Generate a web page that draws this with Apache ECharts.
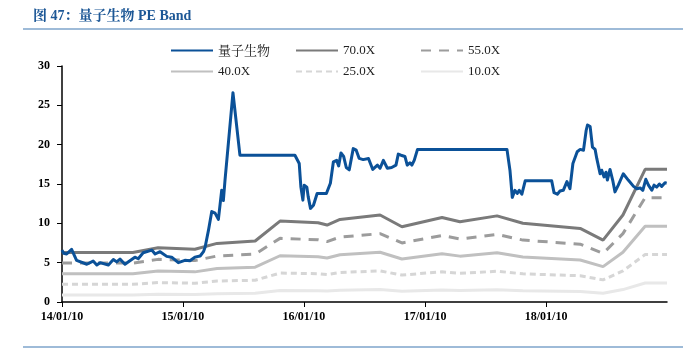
<!DOCTYPE html>
<html>
<head>
<meta charset="utf-8">
<script src="https://cdn.jsdelivr.net/npm/echarts@6/dist/echarts.min.js"></script>
<style>
html,body{margin:0;padding:0;background:#fff;}
#chart{width:683px;height:356px;}
</style>
</head>
<body>
<div id="chart"></div>
<script>
// ---- Data ----
const titleText = '图 47：量子生物 PE Band';
const seriesNames = ['量子生物', '70.0X', '55.0X', '40.0X', '25.0X', '10.0X'];
const xTickDates = ['2014-01-10', '2015-01-10', '2016-01-10', '2017-01-10', '2018-01-10'];
const xMin = '2014-01-10';
const xMax = '2019-01-10';

const peDates = [
  '2014-01-10','2014-01-15','2014-01-24','2014-02-08','2014-02-23','2014-03-26','2014-04-14','2014-04-25','2014-05-05','2014-05-30',
  '2014-06-14','2014-06-24','2014-07-04','2014-07-19','2014-08-18','2014-08-28','2014-09-12','2014-10-08','2014-10-18','2014-11-02',
  '2014-11-22','2014-12-07','2014-12-27','2015-01-16','2015-01-31','2015-02-15','2015-03-03','2015-03-13','2015-03-18','2015-03-28',
  '2015-04-07','2015-04-17','2015-04-27','2015-05-07','2015-05-12','2015-05-17','2015-06-10','2015-07-01','2015-12-14','2015-12-27',
  '2016-01-01','2016-01-07','2016-01-11','2016-01-19','2016-01-23','2016-01-30','2016-02-08','2016-02-19','2016-03-18','2016-03-30',
  '2016-04-08','2016-04-18','2016-04-24','2016-05-01','2016-05-09','2016-05-17','2016-05-26','2016-06-07','2016-06-16','2016-06-25',
  '2016-07-07','2016-07-23','2016-08-05','2016-08-19','2016-08-27','2016-09-06','2016-09-18','2016-10-01','2016-10-14','2016-10-21',
  '2016-10-29','2016-11-10','2016-11-17','2016-11-25','2016-12-01','2016-12-08','2016-12-18','2017-09-14','2017-09-23','2017-09-30',
  '2017-10-08','2017-10-15','2017-10-21','2017-10-29','2017-11-08','2018-01-27','2018-02-03','2018-02-13','2018-02-21','2018-03-03',
  '2018-03-14','2018-03-18','2018-03-23','2018-04-01','2018-04-14','2018-04-23','2018-05-03','2018-05-11','2018-05-15','2018-05-23',
  '2018-05-30','2018-06-07','2018-06-12','2018-06-22','2018-06-27','2018-07-04','2018-07-10','2018-07-14','2018-07-22','2018-07-30',
  '2018-08-06','2018-08-16','2018-08-31','2018-09-15','2018-10-01','2018-10-11','2018-10-21','2018-10-29','2018-11-07','2018-11-15',
  '2018-11-25','2018-12-02','2018-12-10','2018-12-18','2018-12-25','2019-01-04','2019-01-09'
];
const peValues = [
  6.6,6.2,6.1,6.7,5.3,4.8,5.2,4.7,5.0,4.7,
  5.4,5.1,5.45,4.8,5.7,5.5,6.26,6.6,6.1,6.4,
  5.8,5.7,5.0,5.3,5.25,5.7,5.85,6.4,7.0,9.1,
  11.5,11.3,10.5,14.2,12.9,15.5,26.6,18.66,18.66,17.6,
  14.6,12.95,14.85,14.6,13.4,11.9,12.3,13.8,13.8,15.1,
  17.8,18.0,17.3,18.95,18.5,17.1,16.8,19.5,19.3,18.25,
  18.1,18.25,16.85,17.4,17.0,18.0,17.0,17.1,17.4,18.8,
  18.66,18.5,17.4,17.7,17.4,18.0,19.4,19.4,16.75,13.3,
  14.2,13.8,14.2,13.7,15.4,15.4,13.9,13.7,14.1,14.2,
  15.3,15.5,14.4,17.6,19.1,19.4,19.3,21.8,22.5,22.3,
  19.7,19.4,18.25,16.3,16.75,15.9,16.5,15.5,16.85,15.5,
  14.0,14.85,16.3,15.5,14.7,14.4,14.5,14.2,15.6,14.85,
  14.2,14.85,14.6,15.0,14.7,15.15,15.1
];

const bandDates = [
  '2014-01-10','2014-08-12','2014-10-27','2015-02-15','2015-04-23','2015-08-16','2015-10-30',
  '2016-02-22','2016-03-20','2016-04-28','2016-08-27','2016-11-01','2017-03-02','2017-04-25',
  '2017-08-15','2017-11-01','2018-04-23','2018-07-01','2018-08-30','2018-11-05','2019-01-10'
];
const band70 = [6.30,6.30,6.90,6.70,7.45,7.75,10.29,10.07,9.78,10.50,11.06,9.56,10.75,10.20,10.95,10.01,9.35,7.87,11.06,16.87,16.87];
const band55 = [4.95,4.95,5.42,5.26,5.85,6.09,8.09,7.91,7.68,8.25,8.69,7.51,8.45,8.01,8.60,7.87,7.35,6.18,8.69,13.26,13.26];
const band40 = [3.60,3.60,3.94,3.83,4.26,4.43,5.88,5.76,5.59,6.00,6.32,5.46,6.14,5.83,6.26,5.72,5.34,4.50,6.32,9.64,9.64];
const band25 = [2.25,2.25,2.47,2.39,2.66,2.77,3.68,3.60,3.49,3.75,3.95,3.42,3.84,3.64,3.91,3.58,3.34,2.81,3.95,6.03,6.03];
const band10 = [0.90,0.90,0.99,0.96,1.06,1.11,1.47,1.44,1.40,1.50,1.58,1.37,1.54,1.46,1.56,1.43,1.34,1.12,1.58,2.41,2.41];
const yMin = 0, yMax = 30, yInterval = 5;

// ---- Build ----
const ts = d => Date.UTC(+d.slice(0, 4), +d.slice(5, 7) - 1, +d.slice(8, 10));
const pair = (ds, vs) => ds.map((d, i) => [ts(d), vs[i]]);
const colors = ['#0b5198', '#7a7a7a', '#9c9c9c', '#c0c0c0', '#d6d6d6', '#e8e8e8'];
const dashes = ['solid', 'solid', [10, 8], 'solid', [6, 4], 'solid'];
const bandArrays = [band70, band55, band40, band25, band10];

const serif = '"Liberation Serif","Times New Roman","Noto Sans CJK SC",serif';

const series = [];
bandArrays.forEach((arr, i) => {
  series.push({
    name: seriesNames[i + 1], type: 'line', showSymbol: false, symbol: 'none',
    data: pair(bandDates, arr), z: 2,
    lineStyle: { color: colors[i + 1], width: 3, type: dashes[i + 1] },
    itemStyle: { color: colors[i + 1] }
  });
});
series.push({
  name: seriesNames[0], type: 'line', showSymbol: false, symbol: 'none',
  data: pair(peDates, peValues), z: 5,
  lineStyle: { color: colors[0], width: 3, join: 'round' },
  itemStyle: { color: colors[0] }
});

const legendPos = [[170, 44], [295, 44], [420, 44], [170, 65], [295, 65], [420, 65]];
const legends = seriesNames.map((n, i) => ({
  data: [n], left: legendPos[i][0], top: legendPos[i][1],
  padding: 0, itemWidth: 42, itemHeight: 12, itemGap: 0,
  itemStyle: { opacity: 0 },
  textStyle: { fontFamily: i === 0 ? '"Noto Serif CJK SC","Noto Sans CJK SC",serif' : serif, fontSize: 13, color: '#222' },
  selectedMode: false
}));

const tickVals = xTickDates.map(ts);
const fmt = v => { const d = new Date(v); const p = n => String(n).padStart(2, '0'); return p(d.getUTCFullYear() % 100) + '/' + p(d.getUTCMonth() + 1) + '/' + p(d.getUTCDate()); };

const chart = echarts.init(document.getElementById('chart'), null, { renderer: 'canvas' });
chart.setOption({
  animation: false,
  backgroundColor: '#fff',
  legend: legends,
  grid: { left: 62, right: 16, top: 66, bottom: 54, containLabel: false },
  xAxis: {
    type: 'value', min: ts(xMin), max: ts(xMax),
    axisLine: { show: true, lineStyle: { color: '#000', width: 1.5 } },
    axisTick: { show: true, length: 5, lineStyle: { color: '#000' }, customValues: tickVals },
    axisLabel: {
      customValues: tickVals, formatter: fmt,
      fontFamily: serif, fontWeight: 'bold', fontSize: 12, color: '#000', margin: 9
    },
    splitLine: { show: false }
  },
  yAxis: {
    type: 'value', min: yMin, max: yMax, interval: yInterval,
    axisLine: { show: true, lineStyle: { color: '#000', width: 1.5 } },
    axisTick: { show: true, length: 5, lineStyle: { color: '#000' } },
    axisLabel: { fontFamily: serif, fontWeight: 'bold', fontSize: 12, color: '#000', margin: 12 },
    splitLine: { show: false }
  },
  graphic: [
    { type: 'text', left: 33, top: 9, style: { text: titleText, font: 'bold 14px "Liberation Serif", "Noto Serif CJK SC", "Noto Sans CJK SC", serif', fill: '#1c5796' } },
    { type: 'rect', shape: { x: 23, y: 28, width: 660, height: 2 }, style: { fill: '#9ebbd8' } },
    { type: 'rect', shape: { x: 23, y: 346, width: 660, height: 2 }, style: { fill: '#9ebbd8' } }
  ],
  series: series
});
</script>
</body>
</html>
